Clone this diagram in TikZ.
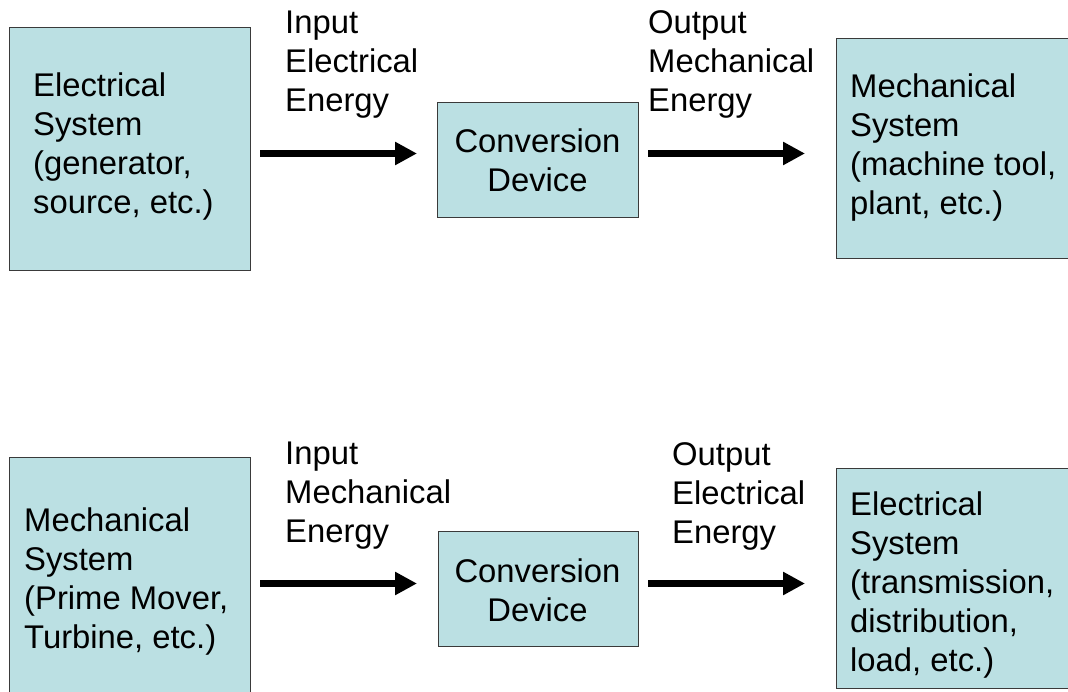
\documentclass[tikz,border=0pt]{standalone}
\usepackage{fontspec}
\setmainfont{Liberation Sans}
\usetikzlibrary{arrows.meta}
\definecolor{boxfill}{HTML}{BBE0E3}
\definecolor{boxline}{HTML}{3A3A3A}
\begin{document}
\begin{tikzpicture}[x=1pt,y=-1pt,
  box/.style={draw=boxline, fill=boxfill, line width=1.1pt, inner sep=0pt, anchor=north west},
  txt/.style={font=\fontsize{32.8}{39}\selectfont, align=left, inner sep=0pt, anchor=base west},
  ctxt/.style={font=\fontsize{32.8}{39}\selectfont, align=center, inner sep=0pt, anchor=base},
  arr/.style={line width=7pt, -{Triangle[length=22pt,width=22pt]}}]
\useasboundingbox[fill=white] (0,0) rectangle (1068,692);

% ---- top row ----
\node[box, minimum width=241pt, minimum height=243pt] (es1) at (9,27) {};
\node[box, minimum width=201pt, minimum height=115pt] (cd1) at (437,102) {};
\node[box, minimum width=250pt, minimum height=220pt] (ms1) at (836,38) {};

% (text nodes are placed by the baseline of their last line)
\node[txt] (es1t) at (33,214) {Electrical\\System\\(generator,\\source, etc.)};
\node[txt] (in1) at (285,112) {Input\\Electrical\\Energy};
\node[ctxt] (cd1t) at (537.5,192) {Conversion\\Device};
\node[txt] (out1) at (648,112) {Output\\Mechanical\\Energy};
\node[txt] (ms1t) at (850,215) {Mechanical\\System\\(machine tool,\\plant, etc.)};

\coordinate (a1s) at (260,153.5);
\coordinate (a1e) at (417,153.5);
\coordinate (a2s) at (648,153.5);
\coordinate (a2e) at (805,153.5);
\draw[arr] (a1s) -- (a1e);
\draw[arr] (a2s) -- (a2e);

% ---- bottom row ----
\node[box, minimum width=241pt, minimum height=250pt] (ms2) at (9,457) {};
\node[box, minimum width=200pt, minimum height=115pt] (cd2) at (438,531) {};
\node[box, minimum width=250pt, minimum height=220pt] (es2) at (836,468) {};

\node[txt] (ms2t) at (24,648) {Mechanical\\System\\(Prime Mover,\\Turbine, etc.)};
\node[txt] (in2) at (285,542) {Input\\Mechanical\\Energy};
\node[ctxt] (cd2t) at (537.5,621) {Conversion\\Device};
\node[txt] (out2) at (672,543) {Output\\Electrical\\Energy};
\node[txt] (es2t) at (850,671) {Electrical\\System\\(transmission,\\distribution,\\load, etc.)};

\coordinate (b1s) at (260,583.5);
\coordinate (b1e) at (417,583.5);
\coordinate (b2s) at (648,583.5);
\coordinate (b2e) at (805,583.5);
\draw[arr] (b1s) -- (b1e);
\draw[arr] (b2s) -- (b2e);
\end{tikzpicture}
\end{document}
